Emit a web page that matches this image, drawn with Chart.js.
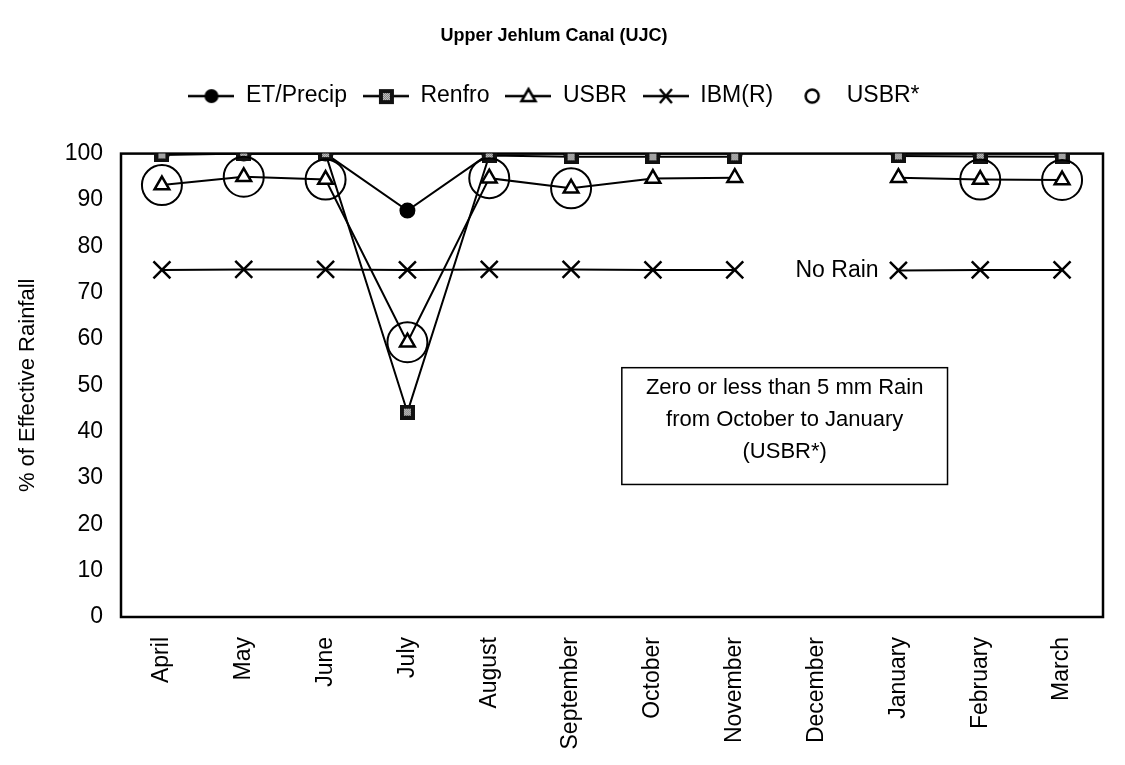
<!DOCTYPE html>
<html>
<head>
<meta charset="utf-8">
<script src="https://cdn.jsdelivr.net/npm/chart.js@4.4.1/dist/chart.umd.min.js"></script>
<style>
  html, body { margin: 0; padding: 0; background: #fff; }
  #wrap { width: 1125px; height: 765px; }
</style>
</head>
<body>
<div id="wrap"><canvas id="myChart" width="1125" height="765"></canvas></div>
<script>
const months = ["April", "May", "June", "July", "August", "September",
  "October", "November", "December", "January", "February", "March"];

const etPrecip = [100, 100, 100, 87.7, 100, 100, 100, 100, null, 100, 100, 100];
const renfro = [99.7, 100, 100, 44.2, 99.6, 99.3, 99.3, 99.3, null, 99.5, 99.4, 99.3];
const usbr = [93.2, 95.0, 94.4, 59.3, 94.7, 92.5, 94.6, 94.8, null, 94.8, 94.4, 94.3];
const ibmR = [74.9, 75.0, 75.0, 74.9, 75.0, 75.0, 74.9, 74.9, null, 74.8, 74.9, 74.9];
const usbrStar = [93.2, 95.0, 94.4, 59.3, 94.7, 92.5, null, null, null, null, 94.4, 94.3];

const yTicks = [0, 10, 20, 30, 40, 50, 60, 70, 80, 90, 100];

const noteLines = ["Zero or less than 5 mm Rain", "from October to January", "(USBR*)"];

const FONT = "'Liberation Sans', Arial, sans-serif";

// square marker with a grey checker inside (Renfro)
const makeSquare = () => {
  const c = document.createElement("canvas");
  c.width = 15; c.height = 15;
  const g = c.getContext("2d");
  g.fillStyle = "#111";
  g.fillRect(0, 0, 15, 15);
  for (let i = 0; i < 7; i++) {
    for (let j = 0; j < 7; j++) {
      g.fillStyle = (i + j) % 2 ? "#777" : "#cfcfcf";
      g.fillRect(4 + i, 4 + j, 1, 1);
    }
  }
  return c;
};
const squareImg = makeSquare();

// legend symbols: line with the marker in the middle
const legendSymbol = (kind) => {
  const c = document.createElement("canvas");
  c.width = 46; c.height = 22;
  const g = c.getContext("2d");
  g.strokeStyle = "#000";
  g.fillStyle = "#000";
  if (kind != "ring") {
    g.lineWidth = 2.5;
    g.beginPath();
    g.moveTo(0, 11);
    g.lineTo(46, 11);
    g.stroke();
  }
  if (kind == "dot") {
    g.beginPath();
    g.arc(23, 11, 7, 0, Math.PI * 2);
    g.fill();
  } else if (kind == "square") {
    g.drawImage(squareImg, 16, 4);
  } else if (kind == "triangle") {
    g.fillStyle = "#fff";
    g.lineWidth = 2.5;
    g.beginPath();
    g.moveTo(23, 4);
    g.lineTo(30, 16);
    g.lineTo(16, 16);
    g.closePath();
    g.fill();
    g.stroke();
  } else if (kind == "cross") {
    g.lineWidth = 2.5;
    g.beginPath();
    g.moveTo(17, 4); g.lineTo(29, 18);
    g.moveTo(29, 4); g.lineTo(17, 18);
    g.stroke();
  } else if (kind == "ring") {
    g.lineWidth = 2.5;
    g.beginPath();
    g.arc(23, 11, 6.5, 0, Math.PI * 2);
    g.stroke();
  }
  return c;
};

const legendItems = [
  { text: "ET/Precip", kind: "dot" },
  { text: "Renfro", kind: "square" },
  { text: "USBR", kind: "triangle" },
  { text: "IBM(R)", kind: "cross" },
  { text: "USBR*", kind: "ring" },
];

const framePlugin = {
  id: "frame",
  beforeDatasetsDraw(chart) {
    const a = chart.chartArea;
    const ctx = chart.ctx;
    ctx.save();
    ctx.strokeStyle = "#000";
    ctx.lineWidth = 2.5;
    ctx.strokeRect(a.left, a.top, a.right - a.left, a.bottom - a.top);
    ctx.restore();
  },
  afterDatasetsDraw(chart) {
    const ctx = chart.ctx;
    const x = chart.scales.x;
    const y = chart.scales.y;
    ctx.save();
    ctx.fillStyle = "#000";
    ctx.font = "23px " + FONT;
    ctx.textAlign = "center";
    ctx.textBaseline = "middle";
    ctx.fillText("No Rain", x.getPixelForValue(8.25), y.getPixelForValue(74.8));

    // note box
    const left = x.getPixelForValue(5.62);
    const right = x.getPixelForValue(9.6);
    const top = y.getPixelForValue(53.8);
    const bottom = y.getPixelForValue(28.6);
    ctx.fillStyle = "#fff";
    ctx.fillRect(left, top, right - left, bottom - top);
    ctx.strokeStyle = "#000";
    ctx.lineWidth = 1.5;
    ctx.strokeRect(left, top, right - left, bottom - top);
    ctx.fillStyle = "#000";
    ctx.font = "22px " + FONT;
    const cx = (left + right) / 2;
    const lineVals = [49.4, 42.6, 35.6];
    noteLines.forEach((t, i) => {
      ctx.fillText(t, cx, y.getPixelForValue(lineVals[i]));
    });
    ctx.restore();
  },
};

const ctx = document.getElementById("myChart").getContext("2d");

let chart = new Chart(ctx, {
  type: "line",
  data: {
    labels: months,
    datasets: [
      {
        label: "USBR*",
        data: usbrStar,
        showLine: false,
        pointStyle: "circle",
        pointRadius: 20,
        pointBorderWidth: 2,
        pointBorderColor: "#000",
        pointBackgroundColor: "rgba(0,0,0,0)",
        order: 0,
      },
      {
        label: "Renfro",
        data: renfro,
        borderColor: "#000",
        borderWidth: 2,
        pointStyle: squareImg,
        pointRadius: 8,
        order: 1,
      },
      {
        label: "USBR",
        data: usbr,
        borderColor: "#000",
        borderWidth: 2,
        pointStyle: "triangle",
        pointRadius: 8.5,
        pointBorderWidth: 2.5,
        pointBorderColor: "#000",
        pointBackgroundColor: "#fff",
        order: 2,
      },
      {
        label: "ET/Precip",
        data: etPrecip,
        borderColor: "#000",
        borderWidth: 2,
        pointStyle: "circle",
        pointRadius: 7,
        pointBackgroundColor: "#000",
        pointBorderColor: "#000",
        order: 3,
      },
      {
        label: "IBM(R)",
        data: ibmR,
        borderColor: "#000",
        borderWidth: 2,
        pointStyle: "crossRot",
        pointRadius: 12,
        pointBorderWidth: 2.5,
        pointBorderColor: "#000",
        order: 4,
      },
    ],
  },
  options: {
    responsive: false,
    animation: false,
    spanGaps: false,
    layout: { padding: { left: 0, right: 17, top: 0, bottom: 0 } },
    plugins: {
      tooltip: { enabled: false },
      title: {
        display: true,
        text: "Upper Jehlum Canal (UJC)",
        color: "#000",
        font: { family: FONT, size: 18, weight: "bold" },
        padding: { top: 25, bottom: 22 },
      },
      subtitle: {
        display: true,
        text: " ",
        weight: 500,
        font: { size: 10, lineHeight: 1 },
        padding: { top: 0, bottom: 26 },
      },
      legend: {
        display: true,
        position: "top",
        labels: {
          usePointStyle: true,
          pointStyleWidth: 46,
          padding: 16,
          color: "#000",
          font: { family: FONT, size: 23 },
          generateLabels: () =>
            legendItems.map((it) => ({
              text: it.text,
              pointStyle: legendSymbol(it.kind),
              fontColor: "#000",
              lineWidth: 0,
              hidden: false,
            })),
        },
      },
    },
    scales: {
      x: {
        offset: true,
        grid: { display: false, drawTicks: false },
        border: { display: false },
        ticks: {
          color: "#000",
          font: { family: FONT, size: 23 },
          minRotation: 90,
          maxRotation: 90,
          padding: 20,
          autoSkip: false,
        },
        afterFit: (scale) => { scale.height = 148; },
      },
      y: {
        min: 0,
        max: 100,
        grid: { display: false, drawTicks: false },
        border: { display: false },
        afterBuildTicks: (scale) => {
          scale.ticks = yTicks.map((v) => ({ value: v }));
        },
        ticks: {
          color: "#000",
          font: { family: FONT, size: 23 },
          padding: 18,
        },
        title: {
          display: true,
          text: "% of Effective Rainfall",
          color: "#000",
          font: { family: FONT, size: 22 },
          padding: { top: 15, bottom: 0 },
        },
        afterFit: (scale) => { scale.width = 121; },
      },
    },
  },
  plugins: [framePlugin],
});
</script>
</body>
</html>
